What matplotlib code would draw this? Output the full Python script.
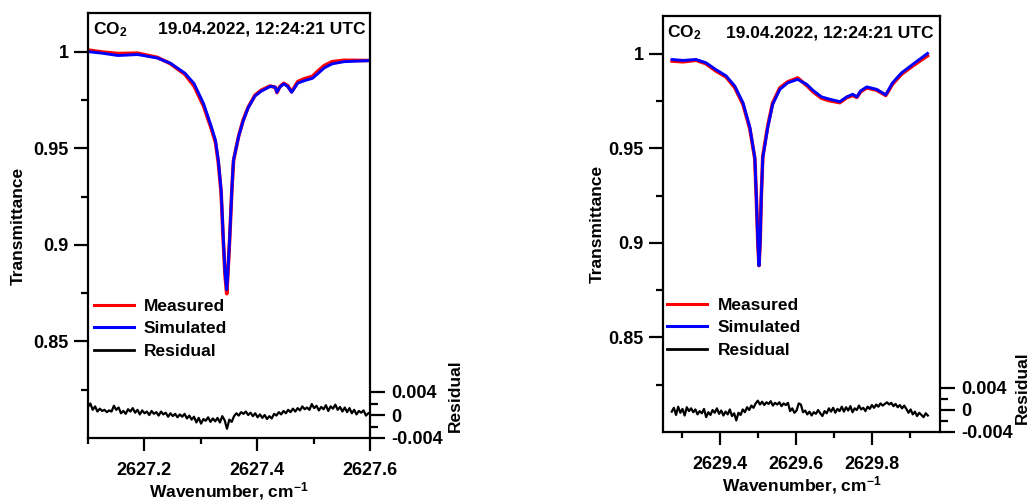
import numpy as np
import matplotlib
matplotlib.use("Agg")
import matplotlib.pyplot as plt
from matplotlib.ticker import MultipleLocator, FixedLocator

plt.rcParams['font.family'] = ['Liberation Sans', 'DejaVu Sans']
plt.rcParams['font.weight'] = 'bold'
plt.rcParams['axes.labelweight'] = 'bold'
plt.rcParams['mathtext.fontset'] = 'custom'
plt.rcParams['mathtext.rm'] = 'Liberation Sans:bold'
plt.rcParams['mathtext.bf'] = 'Liberation Sans:bold'
plt.rcParams['mathtext.default'] = 'bf'

# ---------------- data: left panel ----------------
left_x = [2627.100, 2627.125, 2627.153, 2627.188, 2627.223, 2627.246, 2627.272, 2627.288,
          2627.305, 2627.319, 2627.326, 2627.331, 2627.336, 2627.340, 2627.343, 2627.346,
          2627.348, 2627.351, 2627.355, 2627.358, 2627.367, 2627.375, 2627.384, 2627.396,
          2627.407, 2627.423, 2627.432, 2627.435, 2627.440, 2627.447, 2627.454, 2627.461,
          2627.472, 2627.484, 2627.498, 2627.507, 2627.519, 2627.533, 2627.554, 2627.600]
left_sim = [1.0000, 0.9992, 0.9980, 0.9985, 0.9967, 0.9940, 0.9888, 0.9835,
            0.9730, 0.9608, 0.9541, 0.9438, 0.9284, 0.9026, 0.8856, 0.8768,
            0.8856, 0.9026, 0.9284, 0.9438, 0.9560, 0.9640, 0.9710, 0.9770,
            0.9795, 0.9820, 0.9816, 0.9790, 0.9816, 0.9833, 0.9820, 0.9790,
            0.9837, 0.9850, 0.9862, 0.9885, 0.9916, 0.9937, 0.9948, 0.9954]
left_meas = [1.0008, 0.9998, 0.9990, 0.9992, 0.9970, 0.9938, 0.9882, 0.9822,
             0.9718, 0.9598, 0.9530, 0.9428, 0.9272, 0.9012, 0.8842, 0.8747,
             0.8850, 0.9020, 0.9280, 0.9436, 0.9562, 0.9645, 0.9712, 0.9774,
             0.9800, 0.9822, 0.9815, 0.9788, 0.9818, 0.9836, 0.9824, 0.9792,
             0.9845, 0.9860, 0.9872, 0.9898, 0.9928, 0.9948, 0.9955, 0.9954]
left_res_range = (2627.100, 2627.597)
left_res = [1.4, 2.0, 0.9, 1.5, 0.6, 1.1, 0.7, 0.9, 0.5, 0.8,
            0.6, 1.6, 0.9, 1.3, 0.3, 0.7, 0.2, 1.0, 0.6, 1.2,
            0.4, 0.9, 0.1, 0.8, 0.3, 0.6, 0.0, 0.7, 0.2, 0.5,
            -0.1, 0.6, 0.1, 0.4, -0.3, 0.3, -0.2, 0.2, -0.4, 0.1,
            -0.3, 0.2, -0.6, -0.1, -0.8, -0.3, -1.3, -0.5, -1.5, -0.7,
            -1.0, -0.4, -1.2, -0.6, -1.1, -0.5, -1.3, -0.2, -0.9, -2.4,
            -0.8, -1.2, -0.2, 0.3, -0.1, 0.5, 0.2, 0.6, 0.0, 0.4,
            -0.2, 0.3, -0.4, 0.1, -0.5, 0.0, -0.7, -0.2, -0.6, 0.2,
            -0.1, 0.5, 0.1, 0.7, 0.3, 0.9, 0.5, 1.1, 0.6, 1.2,
            0.8, 1.5, 1.0, 1.3, 0.9, 1.9, 1.2, 1.6, 0.8, 1.4,
            1.0, 1.7, 0.7, 1.5, 1.1, 1.8, 0.9, 1.4, 0.6, 1.3,
            0.5, 1.2, 0.3, 0.9, 0.1, 0.7, 0.4, 0.8, -0.1, 0.3]

# ---------------- data: right panel ----------------
right_x = [2629.274, 2629.303, 2629.337, 2629.363, 2629.389, 2629.416, 2629.439, 2629.461,
           2629.479, 2629.492, 2629.496, 2629.500, 2629.503, 2629.506, 2629.509, 2629.513,
           2629.526, 2629.539, 2629.558, 2629.579, 2629.605, 2629.629, 2629.645, 2629.668,
           2629.689, 2629.716, 2629.734, 2629.750, 2629.761, 2629.771, 2629.787, 2629.813,
           2629.837, 2629.855, 2629.879, 2629.908, 2629.947]
right_sim = [0.9970, 0.9965, 0.9970, 0.9953, 0.9917, 0.9884, 0.9830, 0.9740,
             0.9610, 0.9450, 0.9240, 0.9000, 0.8880, 0.9000, 0.9240, 0.9450,
             0.9610, 0.9733, 0.9812, 0.9847, 0.9865, 0.9838, 0.9807, 0.9772,
             0.9760, 0.9747, 0.9772, 0.9786, 0.9772, 0.9804, 0.9825, 0.9812,
             0.9783, 0.9847, 0.9900, 0.9944, 1.0002]
right_meas = [0.9962, 0.9958, 0.9966, 0.9948, 0.9910, 0.9878, 0.9822, 0.9732,
              0.9602, 0.9445, 0.9236, 0.8998, 0.8880, 0.9004, 0.9245, 0.9458,
              0.9618, 0.9740, 0.9820, 0.9852, 0.9872, 0.9832, 0.9800, 0.9765,
              0.9752, 0.9742, 0.9768, 0.9780, 0.9770, 0.9800, 0.9820, 0.9808,
              0.9780, 0.9840, 0.9893, 0.9936, 0.9990]
right_res_range = (2629.273, 2629.948)
right_res = [-0.3, 0.4, -0.9, 0.6, -0.5, 0.2, -1.0, 0.5, -0.2, 0.3,
             -0.4, 0.1, -0.8, -0.2, -0.6, 0.2, -1.3, -0.4, -0.9, 0.0,
             -0.5, 0.3, -0.7, -0.1, -1.0, -0.3, -0.8, 0.1, -1.1, -0.6,
             -1.9, -0.5, -0.9, 0.1, -0.4, 0.5, 0.0, 0.8, 0.4, 1.2,
             1.7, 1.0, 1.5, 0.9, 1.4, 1.1, 1.6, 0.8, 1.3, 1.0,
             1.4, 0.7, 1.2, 0.9, 1.3, -0.2, 0.3, -0.5, -0.1, 1.2,
             1.0, -0.4, -0.1, -0.8, -0.3, -1.0, -0.4, -0.7, 0.0, -0.6,
             -1.1, -0.2, -0.6, 0.3, -0.3, 0.4, -0.5, 0.2, -0.2, 0.6,
             -0.3, 0.5, -0.1, 0.7, -0.4, 0.3, 0.0, 0.8, 0.1, 0.4,
             -0.2, 0.6, 0.2, 0.9, 0.4, 1.0, 0.6, 1.2, 0.8, 1.1,
             1.4, 1.0, 1.3, 0.7, 1.1, 0.5, 0.9, 0.3, 0.8, 0.2,
             -0.5, 0.1, -0.8, -0.3, -1.1, -0.5, -0.9, -1.3, -0.6, -1.0]

title_gas = r'CO$_{\mathbf{2}}$'
title_time = '19.04.2022, 12:24:21 UTC'
labels = ['Measured', 'Simulated', 'Residual']
xlabel = r'Wavenumber, cm$^{\mathbf{-1}}$'

W, H = 1032, 500
fig = plt.figure(figsize=(W / 100, H / 100), dpi=100)

FS = 12.5
TFS = 13


def px_axes(l, t, r, b):
    return [l / W, 1 - b / H, (r - l) / W, (b - t) / H]


def panel(box, res_top, xlim, x, sim, meas, res_range, res, ylab_x,
          reslab_x, reslab_y, legend_anchor, gas_xy, time_xy, xlab_y):
    ax = fig.add_axes(px_axes(*box))
    ax.plot(x, meas, color='#ff0000', lw=2.6, solid_joinstyle='round')
    ax.plot(x, sim, color='#0000ff', lw=2.1, solid_joinstyle='round')
    ax.set_xlim(*xlim)
    ax.set_ylim(0.8, 1.02)
    ax.xaxis.set_major_locator(MultipleLocator(0.2))
    ax.xaxis.set_minor_locator(MultipleLocator(0.1))
    ax.xaxis.set_major_formatter(plt.FuncFormatter(lambda v, p: f'{v:.1f}'))
    ax.yaxis.set_major_locator(FixedLocator([0.85, 0.9, 0.95, 1.0]))
    ax.yaxis.set_major_formatter(plt.FuncFormatter(lambda v, p: f'{v:g}'))
    ax.yaxis.set_minor_locator(FixedLocator([0.825, 0.875, 0.925, 0.975]))
    for s in ax.spines.values():
        s.set_linewidth(1.6)
    ax.tick_params(which='major', direction='out', length=10, width=1.6,
                   labelsize=TFS, pad=4)
    ax.tick_params(which='minor', direction='out', length=5, width=1.6)
    ax.tick_params(axis='x', which='major', length=9, pad=8)
    ax.tick_params(axis='x', which='minor', length=4)
    ax.set_ylabel('Transmittance', fontsize=FS)
    ax.yaxis.set_label_coords(ylab_x, 0.5)
    ax.set_xlabel(xlabel, fontsize=FS)
    ax.xaxis.set_label_coords(0.5, xlab_y)

    ax.text(gas_xy[0], gas_xy[1], title_gas, transform=ax.transAxes,
            fontsize=FS, ha='left', va='center')
    ax.text(time_xy[0], time_xy[1], title_time, transform=ax.transAxes,
            fontsize=FS, ha='right', va='center')

    # residual axis
    l, t, r, b = box
    axr = fig.add_axes(px_axes(l, res_top, r, b))
    axr.patch.set_visible(False)
    rx = np.linspace(res_range[0], res_range[1], len(res))
    axr.plot(rx, np.array(res) * 1e-3, color='black', lw=1.6)
    axr.set_xlim(*xlim)
    axr.set_ylim(-0.004, 0.004)
    for s in axr.spines.values():
        s.set_visible(False)
    axr.set_xticks([])
    axr.yaxis.tick_right()
    axr.yaxis.set_major_locator(FixedLocator([-0.004, 0.0, 0.004]))
    axr.yaxis.set_major_formatter(plt.FuncFormatter(lambda v, p: f'{v:g}'))
    axr.yaxis.set_minor_locator(FixedLocator([-0.002, 0.002]))
    axr.tick_params(which='major', direction='out', length=11, width=1.6,
                    labelsize=TFS, pad=4)
    axr.tick_params(which='minor', direction='out', length=6, width=1.6)
    axr.yaxis.set_label_position('right')
    axr.set_ylabel('Residual', fontsize=FS)
    axr.yaxis.set_label_coords(reslab_x, reslab_y)

    hm, = ax.plot([], [], color='#ff0000', lw=2.2)
    hs, = ax.plot([], [], color='#0000ff', lw=2.2)
    hr, = ax.plot([], [], color='black', lw=2.0)
    ax.legend([hm, hs, hr], labels, loc='upper left', bbox_to_anchor=legend_anchor,
              frameon=False, fontsize=FS, handlelength=2.3, handletextpad=0.6,
              labelspacing=0.42, borderpad=0, borderaxespad=0)
    return ax


panel((88, 13, 370, 438), 392, (2627.1, 2627.6), left_x, left_sim, left_meas,
      left_res_range, left_res, -0.222, 1.275, 0.93, (0.02, 0.328), (0.018, 0.962),
      (0.985, 0.962), -0.098)
panel((663, 16, 940, 432), 388, (2629.25, 2629.98), right_x, right_sim, right_meas,
      right_res_range, right_res, -0.21, 1.27, 1.0, (0.015, 0.323), (0.015, 0.959),
      (0.975, 0.959), -0.10)

fig.savefig('out.png', dpi=100)
